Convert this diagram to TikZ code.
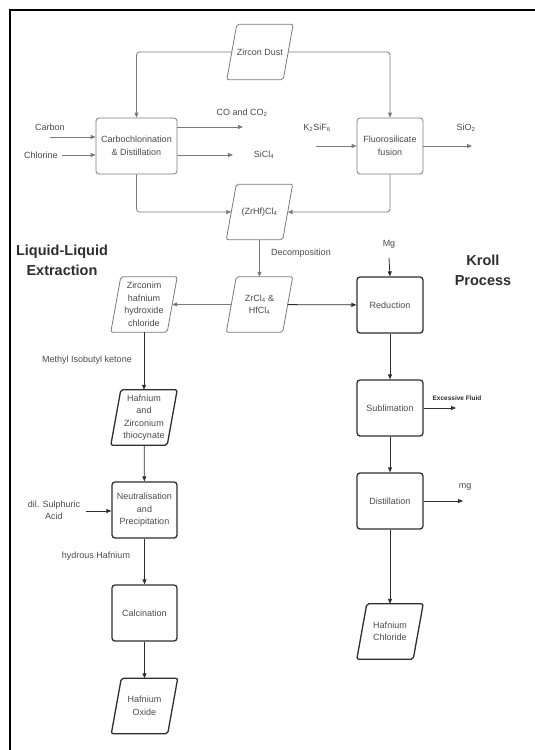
\documentclass[tikz,border=0pt]{standalone}
\usepackage{fontspec}
\setmainfont{Liberation Sans}
\usetikzlibrary{arrows.meta}
\definecolor{txt}{HTML}{4A4A4A}
\definecolor{lgray}{HTML}{7A7A7A}
\definecolor{dark}{HTML}{2E2E2E}
\tikzset{
  every node/.style={font=\fontsize{9}{12.5}\selectfont, text=txt},
  procbox/.style={draw=lgray, line width=0.8pt, rounded corners=3pt, minimum width=66pt, minimum height=56pt, inner sep=1pt, align=center},
  procboxd/.style={procbox, draw=dark, line width=1.3pt},
  paraframe/.style={append after command={\pgfextra{\draw[#1, rounded corners=2pt]
      ([xshift=5pt]\tikzlastnode.north west) -- ([xshift=5pt]\tikzlastnode.north east) --
      ([xshift=-5pt]\tikzlastnode.south east) -- ([xshift=-5pt]\tikzlastnode.south west) -- cycle;}}},
  parabase/.style={rectangle, minimum width=56pt, minimum height=55pt, inner sep=0pt, align=center},
  para/.style={parabase, paraframe={draw=lgray, line width=0.8pt}},
  parad/.style={parabase, paraframe={draw=dark, line width=1.3pt}},
  garrow/.style={-{Triangle[length=5pt,width=4pt]}, draw=lgray, line width=0.8pt, rounded corners=3pt},
  darrow/.style={garrow, draw=dark},
  lbl/.style={align=center},
  title/.style={font=\fontsize{14.5}{20}\selectfont\bfseries, text=dark, align=center},
}
\begin{document}
\begin{tikzpicture}[x=1pt, y=-1pt]
\useasboundingbox (0,0) rectangle (535,750);
\draw[line width=2pt, black] (535,10) -- (10,10) -- (10,750);

% top section
\node[para] (zd) at (260,52) {Zircon Dust};
\node[procbox, minimum width=81pt] (carbo) at (136.5,146) {Carbochlorination\\\& Distillation};
\node[procbox] (fluoro) at (390,146) {Fluorosilicate\\fusion};
\node[para] (zrhf) at (259.5,212) {(ZrHf)Cl\textsubscript{4}};
\node[para] (zrcl) at (259.5,304.5) {ZrCl\textsubscript{4} \&\\HfCl\textsubscript{4}};

\draw[garrow] (zd.west) -| (carbo.north);
\draw[garrow] (zd.east) -| (fluoro.north);

\node[lbl] (carbon) at (50,127) {Carbon};
\node[lbl] (chlorine) at (41,155) {Chlorine};
\coordinate (cin1) at (50,137);
\coordinate (cin2) at (62,155);
\draw[garrow] (cin1) -- (cin1 -| carbo.west);
\draw[garrow] (cin2) -- (cin2 -| carbo.west);

\node[lbl] (coco) at (242,113) {CO and CO\textsubscript{2}};
\node[lbl] (sicl) at (264,155) {SiCl\textsubscript{4}};
\coordinate (cout1) at (243,127);
\coordinate (cout2) at (233,155);
\draw[garrow] (cout1 -| carbo.east) -- (cout1);
\draw[garrow] (cout2 -| carbo.east) -- (cout2);

\node[lbl] (k2) at (317,128) {K\textsubscript{2}SiF\textsubscript{6}};
\node[lbl] (sio) at (466,128) {SiO\textsubscript{2}};
\coordinate (fin) at (316,146);
\coordinate (fout) at (472,146);
\draw[garrow] (fin) -- (fluoro.west);
\draw[garrow] (fluoro.east) -- (fout);

\draw[garrow] (carbo.south) |- (zrhf.west);
\draw[garrow] (fluoro.south) |- (zrhf.east);
\draw[garrow] (zrhf) -- (zrcl);
\node[lbl] (decomp) at (301,253) {Decomposition};

% titles
\node[title] (lle) at (62,260) {Liquid-Liquid\\Extraction};
\node[title] (kroll) at (483,270) {Kroll\\Process};

% Kroll branch
\node[procboxd] (red) at (390,305) {Reduction};
\node[procboxd] (sub) at (390,408) {Sublimation};
\node[procboxd] (dist) at (390,501) {Distillation};
\node[parad] (hfcl) at (390,631.5) {Hafnium\\Chloride};
\node[lbl] (mg) at (389,244) {Mg};
\coordinate (mgin) at (389,258);
\draw[darrow] (mgin) -- (red.north);
\draw[darrow] (zrcl) -- (red);
\draw[darrow] (red) -- (sub);
\draw[darrow] (sub) -- (dist);
\draw[darrow] (dist) -- (hfcl);
\node[lbl, font=\fontsize{6.5}{8}\selectfont\bfseries, text=dark] (exf) at (457,398) {Excessive Fluid};
\coordinate (exout) at (456,408);
\draw[darrow] (sub.east) -- (exout);
\node[lbl] (mgout) at (465,487) {mg};
\coordinate (dout) at (463,501);
\draw[darrow] (dist.east) -- (dout);

% Liquid-liquid branch
\node[para] (zirc) at (144,304.5) {Zirconim\\hafnium\\hydroxide\\chloride};
\node[parad] (thio) at (144,417.5) {Hafnium\\and\\Zirconium\\thiocynate};
\node[procboxd, minimum width=65pt] (neut) at (144.5,510) {Neutralisation\\and\\Precipitation};
\node[procboxd, minimum width=65pt] (calc) at (144.5,613) {Calcination};
\node[parad] (hfox) at (144.5,706) {Hafnium\\Oxide};
\draw[garrow] (zrcl) -- (zirc);
\draw[darrow] (zirc) -- (thio);
\node[lbl] (mibk) at (87,360) {Methyl Isobutyl ketone};
\draw[darrow] (thio) -- (neut);
\node[lbl] (acid) at (54,510.5) {dil. Sulphuric\\Acid};
\coordinate (ain) at (86,511);
\draw[darrow] (ain) -- (ain -| neut.west);
\draw[darrow] (neut) -- (calc);
\node[lbl] (hyd) at (96,556) {hydrous Hafnium};
\draw[darrow] (calc) -- (hfox);
\end{tikzpicture}
\end{document}
